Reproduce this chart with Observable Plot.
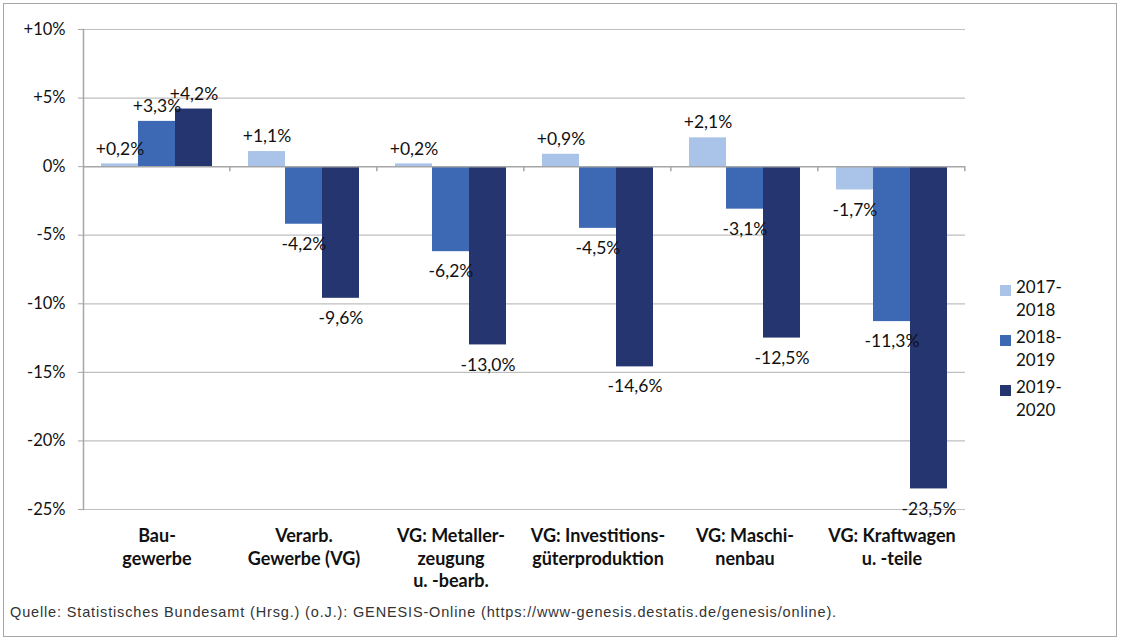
<!DOCTYPE html>
<html>
<head>
<meta charset="utf-8">
<script src="https://cdn.jsdelivr.net/npm/d3@7"></script>
<script src="https://cdn.jsdelivr.net/npm/@observablehq/plot@0.6"></script>
<style>
  html, body { margin: 0; padding: 0; background: #fff; }
  #wrap { position: relative; width: 1126px; height: 643px; overflow: hidden; font-family: Lato, "Open Sans", sans-serif; }
  #border { position: absolute; left: 3px; top: 3px; width: 1112px; height: 632px; border: 1.5px solid #a6a6a6; }
  #chart { position: absolute; left: 0; top: 0; }
  .leg { position: absolute; left: 1000px; font-size: 17px; line-height: 23px; color: #111; }
  .leg .sw { position: absolute; left: 0; top: 6px; width: 11px; height: 11px; }
  .leg .tx { position: absolute; left: 16px; top: -4px; white-space: pre; }
  #source { position: absolute; left: 10px; top: 604px; font-family: "Liberation Sans", Arial, sans-serif; font-size: 14.5px; letter-spacing: 0.85px; color: #333; white-space: nowrap; }
</style>
</head>
<body>
<div id="wrap">
  <div id="border"></div>
  <div id="chart"></div>
  <div id="legend"></div>
  <div id="source"></div>
</div>
<script>
// ---- data ----
const categories = [
  "Bau-\ngewerbe",
  "Verarb.\nGewerbe (VG)",
  "VG: Metaller-\nzeugung\nu. -bearb.",
  "VG: Investitions-\ngüterproduktion",
  "VG: Maschi-\nnenbau",
  "VG: Kraftwagen\nu. -teile"
];
const series = ["2017-2018", "2018-2019", "2019-2020"];
const legendLabels = ["2017-\n2018", "2018-\n2019", "2019-\n2020"];
const values2017_2018 = [0.2, 1.1, 0.2, 0.9, 2.1, -1.7];
const values2018_2019 = [3.3, -4.2, -6.2, -4.5, -3.1, -11.3];
const values2019_2020 = [4.2, -9.6, -13.0, -14.6, -12.5, -23.5];
const yTicks = [10, 5, 0, -5, -10, -15, -20, -25];
const colors = ["#a9c4e8", "#3d68b3", "#24356f"];
const source = "Quelle: Statistisches Bundesamt (Hrsg.) (o.J.): GENESIS-Online (https://www-genesis.destatis.de/genesis/online).";

const seriesValues = [values2017_2018, values2018_2019, values2019_2020];
const data = [];
categories.forEach((c, i) => {
  series.forEach((s, j) => data.push({category: c, series: s, value: seriesValues[j][i]}));
});

const fmtTick = d => (d > 0 ? "+" : "") + d + "%";
const fmtVal = d => (d > 0 ? "+" : "") + d.toFixed(1).replace(".", ",") + "%";

// ---- layout ----
const W = 1126, H = 600;
const mL = 81, mR = 159, mT = 29, mB = 91;
const facetW = (W - mL - mR) / categories.length;
const barW = 38;
const outerPad = (facetW - 3 * barW) / 2;
const xPad = outerPad / barW; // paddingOuter in band steps
const gridColor = "#bfbfbf";
const axisColor = "#a6a6a6";

const chart = Plot.plot({
  width: W,
  height: H,
  marginLeft: mL,
  marginRight: mR,
  marginTop: mT,
  marginBottom: mB,
  style: {fontFamily: "Lato, 'Open Sans', sans-serif", fontSize: "16px", color: "#111", background: "transparent"},
  fx: {domain: categories, padding: 0, label: null},
  x: {domain: series, paddingInner: 0, paddingOuter: xPad, axis: null},
  y: {domain: [-25, 10], axis: null},
  color: {domain: series, range: colors},
  marks: [
    Plot.ruleY(yTicks.filter(d => d !== 0), {stroke: gridColor, strokeWidth: 1.2}),
    Plot.barY(data, {fx: "category", x: "series", y: "value", fill: "series", inset: 0}),
    Plot.ruleY([0], {stroke: axisColor, strokeWidth: 1.5}),
    Plot.ruleX(categories, {fx: d => d, x: () => series[series.length - 1], y1: () => 0, y2: () => 0,
      insetBottom: -5, dx: barW / 2 + outerPad, stroke: axisColor, strokeWidth: 1.5}),
    Plot.text(data.filter(d => d.value > 0), {fx: "category", x: "series", y: "value", text: d => fmtVal(d.value),
      dy: -15, fill: "#111", fontSize: 17.5}),
    Plot.text(data.filter(d => d.value < 0), {fx: "category", x: "series", y: "value", text: d => fmtVal(d.value),
      dy: 20, fill: "#111", fontSize: 17.5}),
    Plot.frame({anchor: "left", facetAnchor: "left", stroke: axisColor, strokeWidth: 1.5}),
    Plot.axisY({ticks: yTicks, tickFormat: fmtTick, tickSize: 5, tickPadding: 13, stroke: axisColor,
      fill: "#111", fontSize: 16.5, label: null, anchor: "left"}),
    Plot.axisFx({anchor: "bottom", tickSize: 0, tickPadding: 17, fontWeight: "bold", fontSize: 18,
      lineHeight: 1.25, fill: "#111", label: null})
  ]
});
document.getElementById("chart").appendChild(chart);

// legend
const legend = document.getElementById("legend");
const legTops = [279, 329, 379];
legendLabels.forEach((lab, i) => {
  const d = document.createElement("div");
  d.className = "leg";
  d.style.top = legTops[i] + "px";
  d.innerHTML = `<div class="sw" style="background:${colors[i]}"></div><div class="tx"></div>`;
  d.querySelector(".tx").textContent = lab;
  legend.appendChild(d);
});
document.getElementById("source").textContent = source;
</script>
</body>
</html>
